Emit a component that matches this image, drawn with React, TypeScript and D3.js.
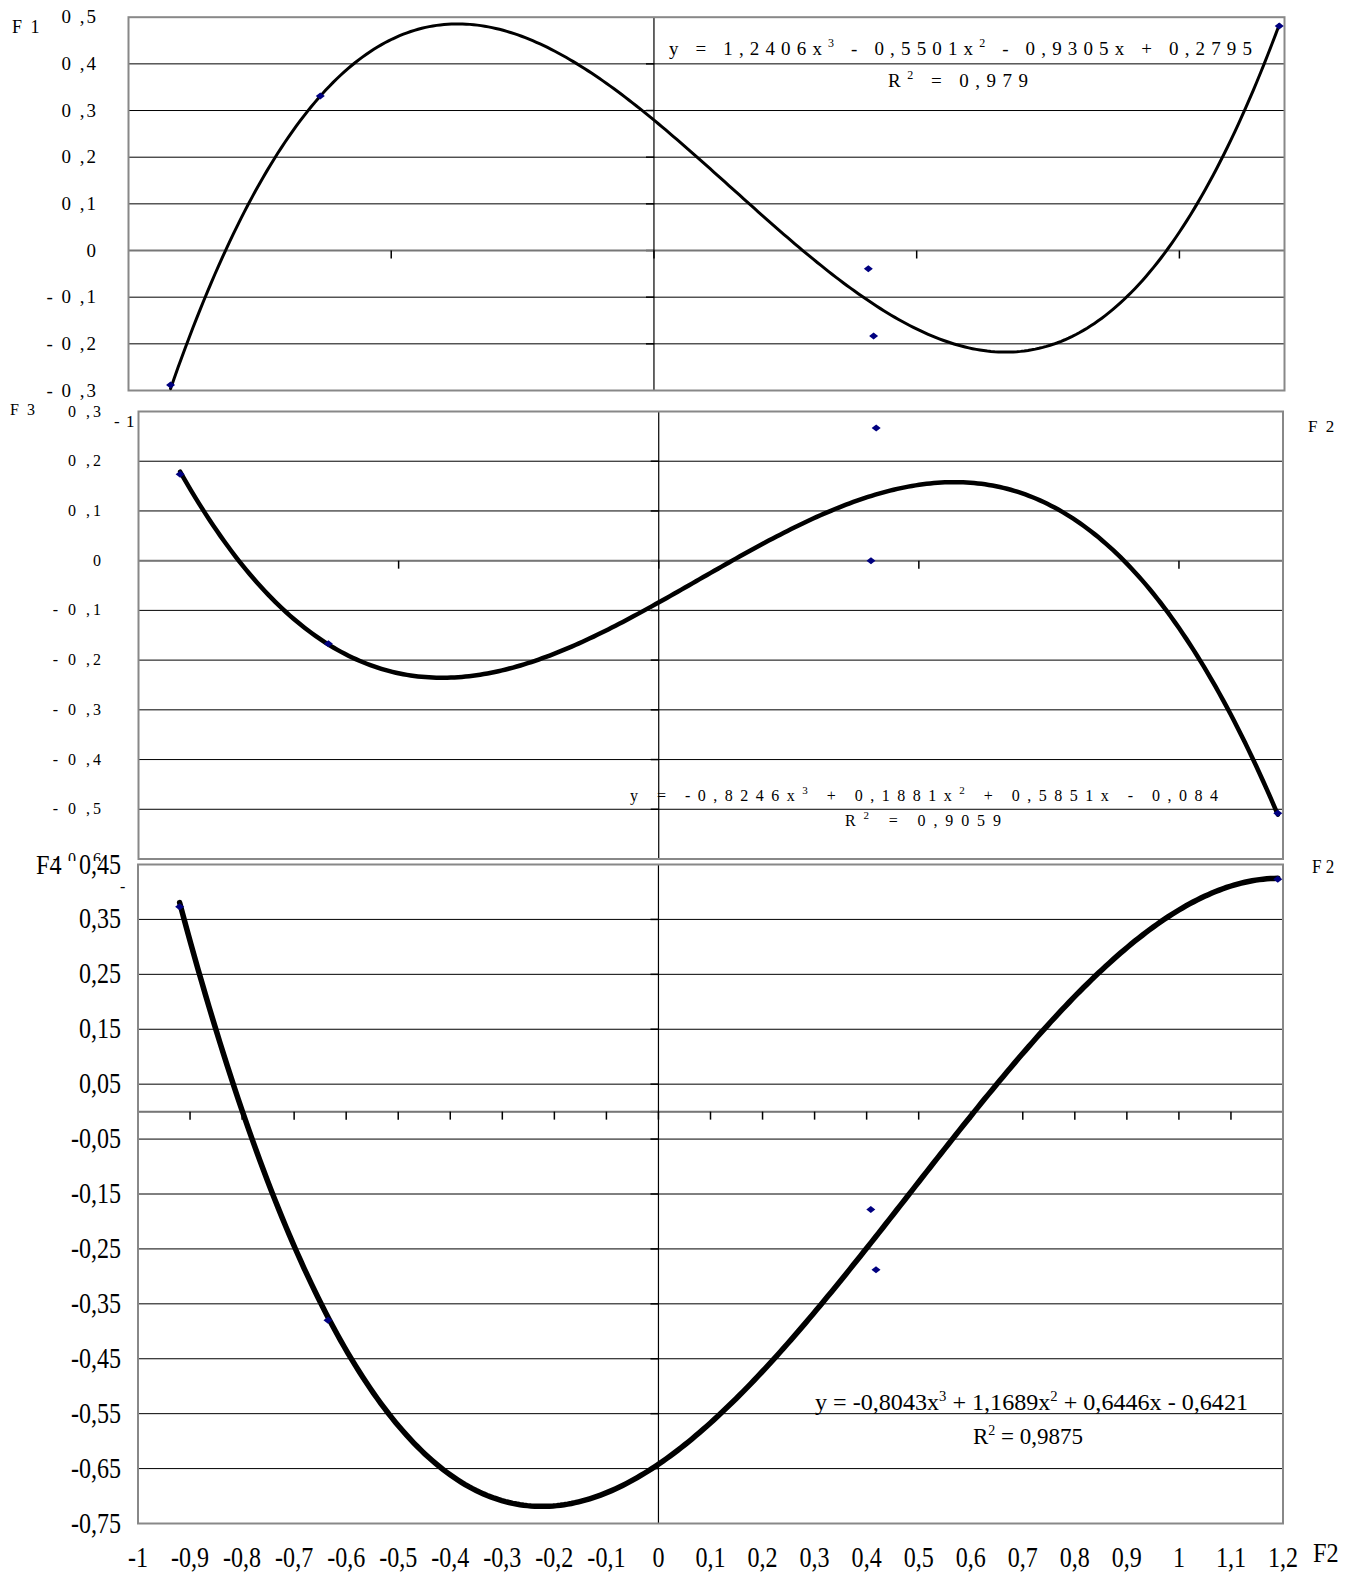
import React from "react";
import * as d3 from "d3";

// ---------- data ----------
const F2 = [-0.92, -0.635, 0.408, 0.418, 1.19];
const F1 = [-0.288, 0.331, -0.039, -0.183, 0.481];
const F3 = [0.174, -0.167, 0.0, 0.267, -0.508];
const F4 = [0.373, -0.38, -0.178, -0.288, 0.423];

const coefF1 = [1.2406, -0.5501, -0.9305, 0.2795];
const coefF3 = [-0.8246, 0.1881, 0.5851, -0.084];
const coefF4 = [-0.8043, 1.1689, 0.6446, -0.6421];

const yTicksP1 = [0.5, 0.4, 0.3, 0.2, 0.1, 0, -0.1, -0.2, -0.3];
const yTicksP2 = [0.3, 0.2, 0.1, 0, -0.1, -0.2, -0.3, -0.4, -0.5, -0.6];
const yTicksP3 = [0.45, 0.35, 0.25, 0.15, 0.05, -0.05, -0.15, -0.25, -0.35, -0.45, -0.55, -0.65, -0.75];
const yLabelsP3 = ["0,45", "0,35", "0,25", "0,15", "0,05", "-0,05", "-0,15", "-0,25", "-0,35", "-0,45", "-0,55", "-0,65", "-0,75"];
const xMajorP12 = [-0.5, 0, 0.5, 1];
const xTicksP3 = [-1, -0.9, -0.8, -0.7, -0.6, -0.5, -0.4, -0.3, -0.2, -0.1, 0, 0.1, 0.2, 0.3, 0.4, 0.5, 0.6, 0.7, 0.8, 0.9, 1, 1.1, 1.2];
const xLabelsP3 = ["-1", "-0,9", "-0,8", "-0,7", "-0,6", "-0,5", "-0,4", "-0,3", "-0,2", "-0,1", "0", "0,1", "0,2", "0,3", "0,4", "0,5", "0,6", "0,7", "0,8", "0,9", "1", "1,1", "1,2"];

const SERIF = "'Liberation Serif', 'Times New Roman', serif";
const NAVY = "#000080";

const spacedLabel = (v: number) => {
  const a = Math.abs(v);
  const s = a === 0 ? "0" : "0 ," + Math.round(a * 10);
  return (v < 0 ? "- " : "") + s;
};

const poly = (c: number[]) => (x: number) => ((c[0] * x + c[1]) * x + c[2]) * x + c[3];

type PanelProps = {
  left: number; right: number; top: number; bottom: number;
  yDomain: [number, number];
  gridVals: number[];
  xTicks: number[];
  tickLen: number;
  ys: number[];
  coef: number[];
  curveW: number;
};

function Panel(p: PanelProps) {
  const x = d3.scaleLinear().domain([-1, 1.2]).range([p.left, p.right]);
  const y = d3.scaleLinear().domain(p.yDomain).range([p.bottom, p.top]);
  const f = poly(p.coef);
  const lo = d3.min(F2)!;
  const hi = d3.max(F2)!;
  const xs = d3.range(0, 301).map((i) => lo + (i / 300) * (hi - lo));
  const line = d3.line<number>().x((d) => x(d)).y((d) => y(f(d))).curve(d3.curveLinear);
  const x0 = x(0);
  const y0 = y(0);
  return (
    <g>
      <rect x={p.left} y={p.top} width={p.right - p.left} height={p.bottom - p.top} fill="#fff" />
      {p.gridVals.map((v, i) => (
        <line key={"g" + i} x1={p.left} x2={p.right} y1={y(v)} y2={y(v)} stroke="#000" strokeWidth={1} />
      ))}
      {p.gridVals.map((v, i) => (
        <line key={"yt" + i} x1={x0 - 8} x2={x0} y1={y(v)} y2={y(v)} stroke="#000" strokeWidth={1.5} />
      ))}
      <line x1={p.left} x2={p.right} y1={y0} y2={y0} stroke="#777" strokeWidth={2} />
      {p.xTicks.map((v, i) => (
        <line key={"xt" + i} x1={x(v)} x2={x(v)} y1={y0} y2={y0 + p.tickLen} stroke="#000" strokeWidth={1.5} />
      ))}
      <line x1={x0} x2={x0} y1={p.top} y2={p.bottom} stroke="#000" strokeWidth={1.2} />
      <rect x={p.left} y={p.top} width={p.right - p.left} height={p.bottom - p.top} fill="none" stroke="#888" strokeWidth={2} />
      <path d={line(xs)!} fill="none" stroke="#000" strokeWidth={p.curveW} strokeLinecap="round" />
      {F2.map((v, i) => (
        <path key={"m" + i} transform={`translate(${x(v)},${y(p.ys[i])})`} d="M0,-3.5L4.5,0L0,3.5L-4.5,0Z" fill={NAVY} />
      ))}
    </g>
  );
}

export default function App() {
  const P1 = { left: 128.5, right: 1284.5, top: 17.2, bottom: 390.5 };
  const P2 = { left: 138.5, right: 1283, top: 411.5, bottom: 859 };
  const P3 = { left: 138, right: 1283, top: 864.5, bottom: 1523.5 };
  const y1 = d3.scaleLinear().domain([-0.3, 0.5]).range([P1.bottom, P1.top]);
  const y2 = d3.scaleLinear().domain([-0.6, 0.3]).range([P2.bottom, P2.top]);
  const y3 = d3.scaleLinear().domain([-0.75, 0.45]).range([P3.bottom, P3.top]);
  const x3 = d3.scaleLinear().domain([-1, 1.2]).range([P3.left, P3.right]);

  return (
    <svg width={1357} height={1573} style={{ position: "absolute", left: 0, top: 0, background: "#fff" }} fontFamily={SERIF}>
      <rect x={0} y={0} width={1357} height={1573} fill="#fff" />
      {/* Panel 1 */}
      <Panel {...P1} yDomain={[-0.3, 0.5]} gridVals={yTicksP1.slice(1, -1)} xTicks={xMajorP12} tickLen={8} ys={F1} coef={coefF1} curveW={3} />
      {yTicksP1.map((v, i) => (
        <text key={"l1" + i} x={98} y={y1(v) + 6} fontSize={19} letterSpacing={2} textAnchor="end">{spacedLabel(v)}</text>
      ))}
      <text x={12} y={33} fontSize={18} letterSpacing={2}>F 1</text>
      <text x={669} y={55} fontSize={19} textLength={583} lengthAdjust="spacing">
        y = 1,2406x<tspan dy={-8} fontSize={12}>3</tspan><tspan dy={8}> - 0,5501x</tspan><tspan dy={-8} fontSize={12}>2</tspan><tspan dy={8}> - 0,9305x + 0,2795</tspan>
      </text>
      <text x={888} y={87} fontSize={19} textLength={140} lengthAdjust="spacing">
        R<tspan dy={-8} fontSize={12}>2</tspan><tspan dy={8}> = 0,979</tspan>
      </text>

      {/* Panel 2 */}
      <Panel {...P2} yDomain={[-0.6, 0.3]} gridVals={yTicksP2.slice(1, -1)} xTicks={xMajorP12} tickLen={8} ys={F3} coef={coefF3} curveW={4.5} />
      {yTicksP2.map((v, i) => (
        <text key={"l2" + i} x={104} y={y2(v) + 5} fontSize={16} letterSpacing={3} textAnchor="end">{spacedLabel(v)}</text>
      ))}
      <text x={10} y={415} fontSize={16} letterSpacing={2}>F 3</text>
      <text x={114} y={427} fontSize={17} letterSpacing={1}>- 1</text>
      <text x={1308} y={432} fontSize={17} letterSpacing={2}>F 2</text>
      <text x={630} y={801} fontSize={16} textLength={588} lengthAdjust="spacing">
        y = -0,8246x<tspan dy={-7} fontSize={11}>3</tspan><tspan dy={7}> + 0,1881x</tspan><tspan dy={-7} fontSize={11}>2</tspan><tspan dy={7}> + 0,5851x - 0,084</tspan>
      </text>
      <text x={845} y={826} fontSize={16} textLength={156} lengthAdjust="spacing">
        R<tspan dy={-7} fontSize={11}>2</tspan><tspan dy={7}> = 0,9059</tspan>
      </text>

      {/* Panel 3 */}
      <rect x={20} y={861} width={1290} height={8} fill="#fff" />
      <Panel {...P3} yDomain={[-0.75, 0.45]} gridVals={yTicksP3.slice(1, -1).concat([0])} xTicks={xTicksP3} tickLen={8} ys={F4} coef={coefF4} curveW={5.5} />
      {yTicksP3.map((v, i) => (
        <text key={"l3" + i} transform={`translate(121,${y3(v) + 9}) scale(0.83,1)`} fontSize={29} textAnchor="end">{yLabelsP3[i]}</text>
      ))}
      {xTicksP3.map((v, i) => (
        <text key={"x3" + i} transform={`translate(${x3(v)},${1567}) scale(0.83,1)`} fontSize={29} textAnchor="middle">{xLabelsP3[i]}</text>
      ))}
      <text transform="translate(36,874) scale(0.9,1)" fontSize={27}>F4</text>
      <text x={120} y={892} fontSize={16}>-</text>
      <text transform="translate(1312,873) scale(0.95,1)" fontSize={18}>F 2</text>
      <text transform="translate(1313,1562) scale(0.9,1)" fontSize={27}>F2</text>
      <text x={815} y={1410} fontSize={23} textLength={433} lengthAdjust="spacingAndGlyphs">
        y = -0,8043x<tspan dy={-9} fontSize={14}>3</tspan><tspan dy={9}> + 1,1689x</tspan><tspan dy={-9} fontSize={14}>2</tspan><tspan dy={9}> + 0,6446x - 0,6421</tspan>
      </text>
      <text x={973} y={1444} fontSize={23}>
        R<tspan dy={-9} fontSize={14}>2</tspan><tspan dy={9}> = 0,9875</tspan>
      </text>
    </svg>
  );
}
